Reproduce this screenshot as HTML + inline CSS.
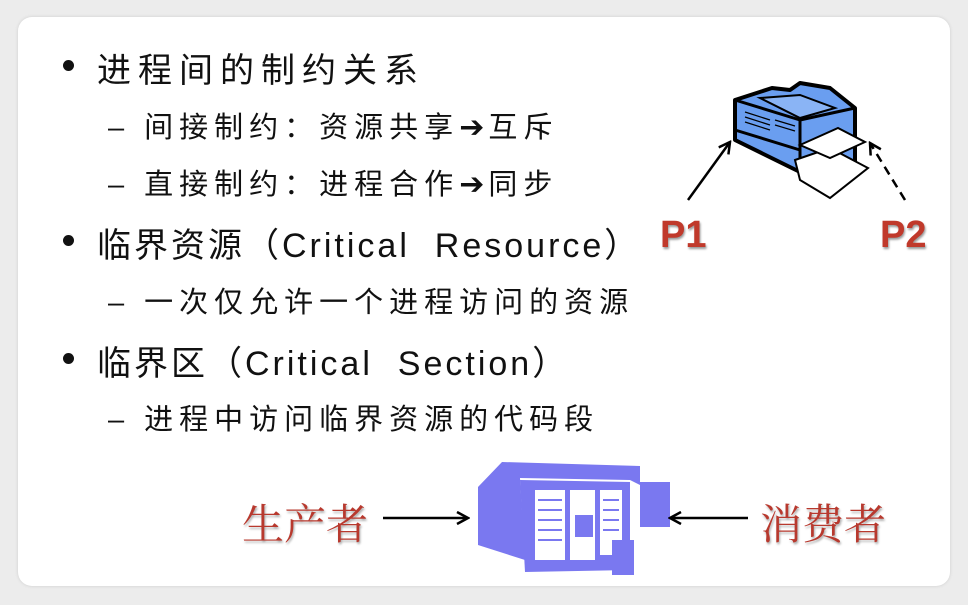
<!DOCTYPE html>
<html><head><meta charset="utf-8"><style>
body{margin:0;width:968px;height:605px;background:#ececec;position:relative;overflow:hidden;font-family:"Liberation Sans","Noto Sans CJK SC",sans-serif}
.card{position:absolute;left:18px;top:17px;width:932px;height:569px;background:#fff;border-radius:14px;box-shadow:0 0 3px #ccc}
.t{position:absolute;white-space:nowrap;color:#111}
.b{font-size:34px;letter-spacing:7px}
.s{font-size:29px;letter-spacing:6px}
.ar{font-family:"DejaVu Sans",sans-serif;font-size:30px;letter-spacing:4px}
.dot{position:absolute;width:11px;height:11px;border-radius:50%;background:#111}
.red{position:absolute;font-family:"Noto Serif CJK SC",serif;color:#b8392e;font-size:42px;text-shadow:1px 2px 2px #aaa;white-space:nowrap}
.p{position:absolute;font-weight:bold;font-size:38px;color:#c0392b;text-shadow:1px 2px 2px #999}
</style></head><body>
<div class="card"></div>
<div class="dot" style="left:63px;top:60px"></div>
<div class="t b" style="left:97px;top:43px">进程间的制约关系</div>
<div class="t s" style="left:108px;top:104px">– 间接制约：资源共享<span class="ar">➔</span>互斥</div>
<div class="t s" style="left:108px;top:161px">– 直接制约：进程合作<span class="ar">➔</span>同步</div>
<div class="dot" style="left:63px;top:235px"></div>
<div class="t b" style="left:97px;top:218px;letter-spacing:3px">临界资源（Critical&nbsp; Resource）</div>
<div class="t s" style="left:108px;top:279px">– 一次仅允许一个进程访问的资源</div>
<div class="dot" style="left:63px;top:353px"></div>
<div class="t b" style="left:97px;top:336px;letter-spacing:3px">临界区（Critical&nbsp; Section）</div>
<div class="t s" style="left:108px;top:396px">– 进程中访问临界资源的代码段</div>

<svg style="position:absolute;left:0;top:0" width="968" height="605">
<defs><marker id="a" markerUnits="userSpaceOnUse" markerWidth="14" markerHeight="14" refX="12" refY="7" orient="auto"><path d="M1,1 L12,7 L1,13" fill="none" stroke="#000" stroke-width="2.5"/></marker></defs>
<polygon points="735,100 772,88 790,90 800,83 830,88 855,108 855,165 800,172 735,140" fill="#6a9ef0" stroke="#000" stroke-width="4" stroke-linejoin="round"/>
<polygon points="760,98 800,95 835,108 800,118" fill="#8ab4f5" stroke="#000" stroke-width="2"/>
<line x1="800" y1="120" x2="855" y2="108" stroke="#000" stroke-width="3"/>
<line x1="735" y1="100" x2="800" y2="120" stroke="#000" stroke-width="3"/>
<line x1="800" y1="120" x2="800" y2="170" stroke="#000" stroke-width="3"/>
<line x1="735" y1="130" x2="800" y2="150" stroke="#000" stroke-width="3"/>
<g stroke="#000" stroke-width="1.2"><line x1="745" y1="112" x2="770" y2="120"/><line x1="745" y1="117" x2="770" y2="125"/><line x1="745" y1="122" x2="770" y2="130"/><line x1="775" y1="120" x2="795" y2="126"/><line x1="775" y1="125" x2="795" y2="131"/></g>
<polygon points="795,160 830,148 868,168 830,198 800,180" fill="#fff" stroke="#000" stroke-width="2"/>
<polygon points="800,145 838,128 865,142 830,158" fill="#fff" stroke="#000" stroke-width="2"/>
<line x1="688" y1="200" x2="730" y2="142" stroke="#000" stroke-width="2.5" marker-end="url(#a)"/>
<line x1="905" y1="200" x2="870" y2="143" stroke="#000" stroke-width="2.5" stroke-dasharray="9,6" marker-end="url(#a)"/>
<polygon points="478,487 502,462 640,466 640,485 630,480 520,478 525,560 478,545" fill="#7a78f0"/>
<polygon points="520,480 630,482 630,570 525,572" fill="#7a78f0"/>
<rect x="535" y="490" width="30" height="70" fill="#fff"/>
<rect x="570" y="490" width="25" height="70" fill="#fff"/>
<rect x="600" y="490" width="22" height="65" fill="#fff"/>
<g stroke="#7a78f0" stroke-width="2"><line x1="538" y1="500" x2="562" y2="500"/><line x1="538" y1="510" x2="562" y2="510"/><line x1="538" y1="520" x2="562" y2="520"/><line x1="538" y1="530" x2="562" y2="530"/><line x1="538" y1="540" x2="562" y2="540"/><line x1="603" y1="500" x2="619" y2="500"/><line x1="603" y1="510" x2="619" y2="510"/><line x1="603" y1="520" x2="619" y2="520"/><line x1="603" y1="530" x2="619" y2="530"/></g>
<rect x="575" y="515" width="18" height="22" fill="#7a78f0"/>
<rect x="640" y="482" width="30" height="45" fill="#7a78f0"/>
<rect x="612" y="540" width="22" height="35" fill="#7a78f0"/>
<line x1="383" y1="518" x2="468" y2="518" stroke="#000" stroke-width="2.5" marker-end="url(#a)"/>
<line x1="748" y1="518" x2="670" y2="518" stroke="#000" stroke-width="2.5" marker-end="url(#a)"/>
</svg>
<div class="p" style="left:660px;top:214px">P1</div>
<div class="p" style="left:880px;top:214px">P2</div>
<div class="red" style="left:242px;top:492px">生产者</div>
<div class="red" style="left:760px;top:492px">消费者</div>
</body></html>
